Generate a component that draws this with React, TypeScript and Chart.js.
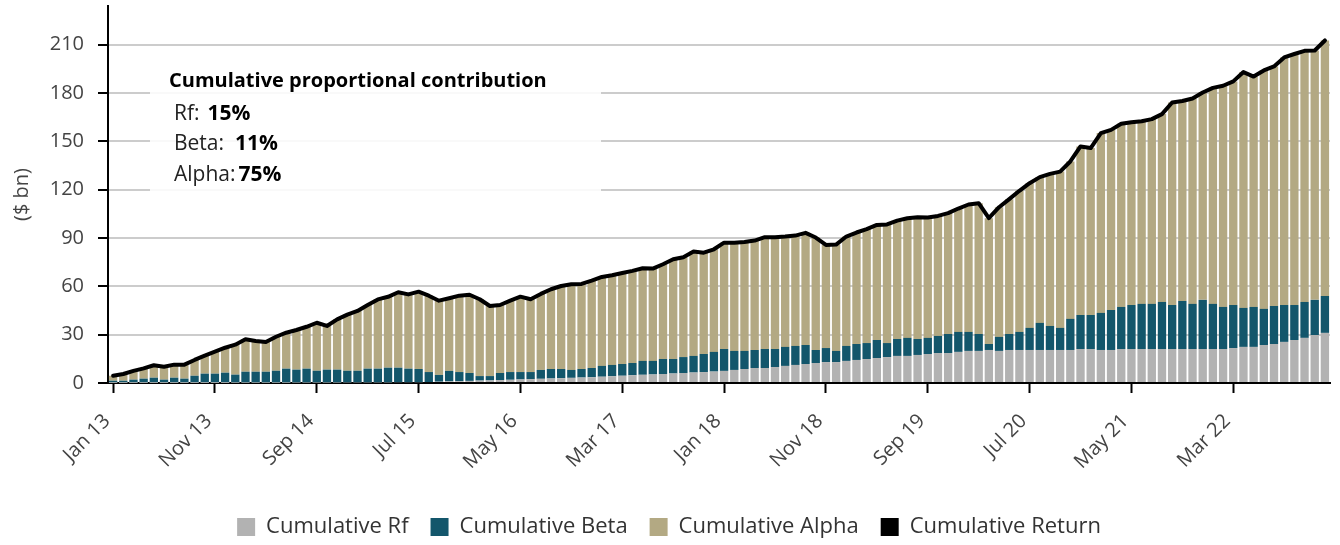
import React, { useEffect, useRef } from 'react';
import { Chart, registerables } from 'chart.js';

Chart.register(...registerables);

// ---- Data ----
const monthNames = ['Jan', 'Feb', 'Mar', 'Apr', 'May', 'Jun', 'Jul', 'Aug', 'Sep', 'Oct', 'Nov', 'Dec'];
const yearLabels = ['13', '14', '15', '16', '17', '18', '19', '20', '21', '22'];
const categories: string[] = yearLabels.flatMap((y) => monthNames.map((m) => `${m} ${y}`));

const cumulativeRf = [
  0.1, 0.1, 0.1, 0.1, 0.1, 0.1, 0.1, 0.1, 0.1, 0.1,
  0.1, 0.1, 0.2, 0.2, 0.2, 0.2, 0.2, 0.2, 0.3, 0.3,
  0.3, 0.3, 0.3, 0.4, 0.4, 0.4, 0.4, 0.4, 0.5, 0.5,
  0.5, 0.6, 0.8, 1.0, 1.1, 1.3, 1.5, 1.6, 1.8, 2.0,
  2.2, 2.4, 2.6, 2.8, 3.0, 3.2, 3.4, 3.6, 3.9, 4.2,
  4.5, 4.8, 5.1, 5.3, 5.6, 5.9, 6.2, 6.5, 6.8, 7.1,
  7.5, 8.1, 8.7, 9.3, 9.3, 9.9, 10.6, 11.2, 11.8, 12.4,
  13.0, 13.0, 13.7, 14.3, 14.9, 15.5, 16.1, 16.8, 16.8, 17.4,
  18.0, 18.6, 18.6, 19.3, 19.9, 19.9, 20.5, 19.9, 20.5, 20.5,
  20.5, 20.5, 20.5, 20.5, 20.5, 21.1, 21.1, 20.5, 20.5, 21.1,
  21.1, 21.1, 21.1, 21.1, 21.1, 21.1, 21.1, 21.1, 21.1, 21.1,
  21.7, 22.4, 22.4, 23.6, 24.2, 25.5, 26.7, 28.0, 29.8, 31.1,
];

const cumulativeBeta = [
  1.3, 1.3, 2.0, 2.6, 3.2, 2.0, 3.2, 2.6, 4.4, 5.7,
  5.7, 6.3, 5.0, 6.8, 6.8, 6.8, 7.4, 8.7, 8.0, 8.6,
  7.3, 8.0, 8.0, 7.2, 7.2, 8.5, 8.5, 9.1, 9.0, 8.4,
  8.2, 6.2, 4.2, 6.5, 5.7, 4.9, 2.8, 2.7, 4.4, 4.8,
  4.6, 4.4, 5.5, 5.9, 5.7, 4.9, 5.3, 5.7, 6.7, 7.0,
  7.3, 7.6, 8.6, 8.4, 9.3, 9.0, 9.9, 10.3, 11.2, 12.2,
  13.6, 11.8, 11.2, 11.2, 11.8, 11.2, 11.8, 11.8, 11.8, 8.1,
  8.7, 6.9, 9.3, 9.9, 9.9, 11.2, 8.7, 10.5, 11.2, 9.9,
  10.0, 10.6, 11.8, 12.4, 11.8, 10.5, 3.7, 8.7, 9.9, 11.2,
  13.7, 16.8, 14.9, 13.7, 19.3, 21.1, 21.1, 23.0, 24.8, 26.1,
  27.3, 28.0, 28.0, 29.2, 27.3, 29.8, 28.0, 30.5, 28.0, 26.1,
  26.7, 24.2, 24.8, 22.4, 23.6, 22.9, 21.7, 22.3, 21.8, 22.9,
];

const cumulativeAlpha = [
  3.1, 4.2, 5.4, 6.4, 7.7, 8.0, 8.1, 8.7, 9.8, 11.2,
  13.6, 15.5, 18.6, 20.1, 19.1, 18.4, 21.1, 22.3, 24.6, 26.0,
  29.8, 27.1, 31.2, 34.8, 37.1, 39.5, 43.0, 44.0, 46.8, 46.1,
  48.0, 47.4, 46.1, 45.1, 47.4, 48.6, 47.7, 43.5, 42.2, 44.3,
  46.8, 45.2, 47.2, 49.5, 51.5, 53.2, 52.8, 54.2, 55.2, 55.7,
  56.5, 57.2, 57.5, 57.3, 58.8, 61.9, 62.0, 64.8, 62.9, 63.7,
  66.0, 67.2, 67.6, 67.9, 69.4, 69.4, 68.5, 68.5, 69.6, 69.8,
  64.0, 66.0, 67.9, 69.2, 70.7, 71.4, 73.6, 73.5, 74.3, 75.6,
  74.7, 74.5, 75.0, 76.6, 79.1, 81.2, 78.1, 80.5, 83.7, 87.6,
  89.8, 90.5, 94.4, 97.0, 97.7, 104.6, 103.6, 111.6, 111.8, 113.7,
  113.5, 113.4, 114.7, 116.6, 125.7, 124.1, 127.5, 128.7, 134.1, 137.3,
  138.8, 146.4, 143.0, 148.0, 148.7, 153.7, 155.8, 155.9, 154.8, 158.6,
];

const cumulativeReturn = [
  4.5, 5.6, 7.5, 9.1, 11.0, 10.1, 11.4, 11.4, 14.3, 17.0,
  19.4, 21.9, 23.8, 27.1, 26.1, 25.4, 28.7, 31.2, 32.9, 34.9,
  37.4, 35.4, 39.5, 42.4, 44.7, 48.4, 51.9, 53.5, 56.3, 55.0,
  56.7, 54.2, 51.1, 52.6, 54.2, 54.8, 52.0, 47.8, 48.4, 51.1,
  53.6, 52.0, 55.3, 58.2, 60.2, 61.3, 61.5, 63.5, 65.8, 66.9,
  68.3, 69.6, 71.2, 71.0, 73.7, 76.8, 78.1, 81.6, 80.9, 83.0,
  87.1, 87.1, 87.5, 88.4, 90.5, 90.5, 90.9, 91.5, 93.2, 90.3,
  85.7, 85.9, 90.9, 93.4, 95.5, 98.1, 98.4, 100.8, 102.3, 102.9,
  102.7, 103.7, 105.4, 108.3, 110.8, 111.6, 102.3, 109.1, 114.1, 119.3,
  124.0, 127.8, 129.8, 131.2, 137.5, 146.8, 145.8, 155.1, 157.1, 160.9,
  161.9, 162.5, 163.8, 166.9, 174.1, 175.0, 176.6, 180.3, 183.2, 184.5,
  187.2, 193.0, 190.2, 194.0, 196.5, 202.1, 204.2, 206.2, 206.4, 212.6,
];

const seriesNames = ['Cumulative Rf', 'Cumulative Beta', 'Cumulative Alpha', 'Cumulative Return'];
const seriesColors = ['#b2b2b2', '#13566b', '#b3a983', '#000000'];

const yTickValues = [0, 30, 60, 90, 120, 150, 180, 210];
const xTickEvery = 10;

const boxTitle = 'Cumulative proportional contribution';
const boxLabels = ['Rf:', 'Beta:', 'Alpha:'];
const boxValues = ['15%', '11%', '75%'];

const FONT = "'Open Sans', 'DejaVu Sans', sans-serif";

const contribBoxPlugin = {
  id: 'contribBox',
  beforeDatasetsDraw(chart: any) {
    const { ctx, chartArea } = chart;
    const bx = chartArea.left + 42;
    const by = 55;
    ctx.save();
    ctx.fillStyle = 'rgba(255,255,255,0.88)';
    ctx.fillRect(bx, by, 451, 145);
    ctx.textBaseline = 'alphabetic';
    ctx.textAlign = 'left';
    ctx.fillStyle = '#000';
    ctx.font = `bold 20px ${FONT}`;
    ctx.fillText(boxTitle, bx + 19, 87);
    const baselines = [120, 150, 181];
    const gaps = [8, 11, 3];
    boxLabels.forEach((lab, i) => {
      ctx.font = `21px ${FONT}`;
      ctx.fillStyle = '#222';
      ctx.fillText(lab, bx + 24, baselines[i]);
      const w = ctx.measureText(lab).width;
      ctx.font = `bold 21px ${FONT}`;
      ctx.fillStyle = '#000';
      ctx.fillText(boxValues[i], bx + 24 + w + gaps[i], baselines[i]);
    });
    ctx.restore();
  },
};

// Rotated x-axis tick labels, placed from the category scale's own tick pixels
const xLabelPlugin = {
  id: 'xRotatedLabels',
  afterDraw(chart: any) {
    const scale = chart.scales.x;
    const { ctx } = chart;
    ctx.save();
    ctx.font = `20px ${FONT}`;
    ctx.fillStyle = '#444';
    ctx.textAlign = 'right';
    ctx.textBaseline = 'alphabetic';
    scale.ticks.forEach((t: any, i: number) => {
      const px = scale.getPixelForTick(i);
      ctx.save();
      ctx.translate(px - 2, scale.top + 39);
      ctx.rotate(-Math.PI / 4);
      ctx.fillText(categories[t.value], 0, 0);
      ctx.restore();
    });
    ctx.restore();
  },
};

export default function App() {
  const canvasRef = useRef<HTMLCanvasElement | null>(null);

  useEffect(() => {
    document.body.style.margin = '0';
    const canvas = canvasRef.current;
    if (!canvas) return;
    const chart = new Chart(canvas, {
      type: 'bar',
      data: {
        labels: categories,
        datasets: [
          {
            type: 'bar',
            label: seriesNames[0],
            data: cumulativeRf,
            backgroundColor: seriesColors[0],
            stack: 'main',
            order: 1,
            barPercentage: 0.82,
            categoryPercentage: 1.0,
          },
          {
            type: 'bar',
            label: seriesNames[1],
            data: cumulativeBeta,
            backgroundColor: seriesColors[1],
            stack: 'main',
            order: 1,
            barPercentage: 0.82,
            categoryPercentage: 1.0,
          },
          {
            type: 'bar',
            label: seriesNames[2],
            data: cumulativeAlpha,
            backgroundColor: seriesColors[2],
            stack: 'main',
            order: 1,
            barPercentage: 0.82,
            categoryPercentage: 1.0,
          },
          {
            type: 'line',
            label: seriesNames[3],
            data: cumulativeReturn,
            borderColor: seriesColors[3],
            backgroundColor: seriesColors[3],
            borderWidth: 4,
            pointRadius: 0,
            tension: 0,
            borderJoinStyle: 'round',
            borderCapStyle: 'round',
            stack: 'ret',
            order: 0,
          } as any,
        ],
      },
      options: {
        responsive: false,
        animation: false,
        layout: { padding: { left: 8, right: 10, top: 6, bottom: -3 } },
        plugins: {
          tooltip: { enabled: false },
          legend: {
            position: 'bottom',
            labels: {
              boxWidth: 18,
              boxHeight: 18,
              padding: 22,
              color: '#333',
              font: { family: FONT, size: 22 },
              generateLabels: (ch: any) =>
                ch.data.datasets.map((ds: any, i: number) => ({
                  text: ds.label,
                  fillStyle: seriesColors[i],
                  strokeStyle: seriesColors[i],
                  lineWidth: 0,
                  hidden: false,
                  datasetIndex: i,
                  fontColor: '#333',
                })),
            },
          },
        },
        scales: {
          x: {
            stacked: true,
            offset: true,
            grid: {
              offset: false,
              drawOnChartArea: false,
              drawTicks: true,
              tickLength: 10,
              tickColor: '#000',
              tickWidth: 2,
            },
            border: { display: true, color: '#000', width: 2 },
            ticks: {
              display: false,
              autoSkip: false,
              maxRotation: 0,
              minRotation: 0,
            },
            afterBuildTicks: (scale: any) => {
              scale.ticks = scale.ticks.filter((t: any) => t.value % xTickEvery === 0);
            },
            afterFit: (scale: any) => {
              scale.height = 111;
              scale.paddingLeft = 0;
              scale.paddingRight = 0;
            },
          },
          y: {
            stacked: true,
            min: 0,
            max: 234,
            grid: {
              color: '#cccccc',
              lineWidth: 2,
              tickColor: '#000',
              tickLength: 10,
              tickWidth: 2,
            },
            border: { display: true, color: '#000', width: 2 },
            ticks: {
              stepSize: 30,
              padding: 14,
              color: '#444',
              font: { family: FONT, size: 20 },
            },
            title: {
              display: true,
              text: '($ bn)',
              color: '#444',
              font: { family: FONT, size: 20 },
              padding: { top: 2, bottom: 0 },
            },
            afterBuildTicks: (scale: any) => {
              scale.ticks = yTickValues.map((v) => ({ value: v }));
            },
            afterFit: (scale: any) => {
              scale.width = 100;
              scale.paddingTop = 0;
              scale.paddingBottom = 0;
            },
          },
        },
      },
      plugins: [contribBoxPlugin, xLabelPlugin],
    });
    return () => chart.destroy();
  }, []);

  return (
    <div style={{ width: 1340, height: 545 }}>
      <canvas ref={canvasRef} width={1340} height={545} />
    </div>
  );
}
